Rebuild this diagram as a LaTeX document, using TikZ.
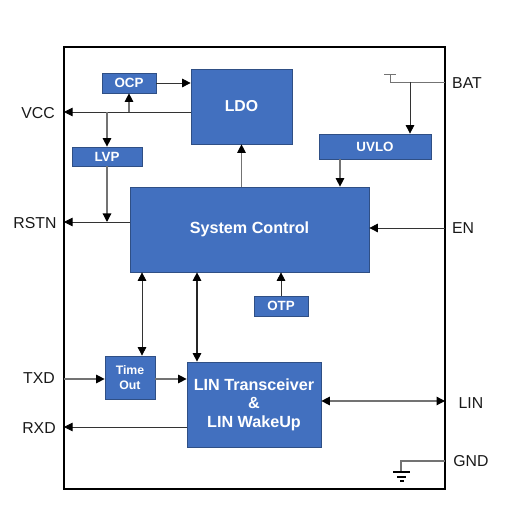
\documentclass[tikz,border=0pt]{standalone}
\usepackage{fontspec}
\setmainfont{Liberation Sans}
\usetikzlibrary{arrows.meta,positioning}

\begin{document}
\begin{tikzpicture}[x=1cm,y=1cm,>={Triangle[length=1.7mm,width=1.7mm,black]},font=\fontsize{9pt}{10pt}\selectfont,
 block/.style={draw=blockedge,line width=.4pt,fill=blockblue,text=white,align=center,inner sep=0pt,font=\fontsize{7.6pt}{9.6pt}\selectfont\bfseries},
 pinlabel/.style={text=black!90,inner sep=0pt},
 sig/.style={line width=.45pt,black!80},
 graysig/.style={line width=.7pt,black!55},
 wire/.style={line width=.5pt,black!55}]
\definecolor{blockblue}{HTML}{4270BF}
\definecolor{blockedge}{HTML}{2F4F85}
\useasboundingbox (0,0) rectangle (10.6,10.2);
\node[draw=black,line width=.7pt,minimum width=7.62cm,minimum height=8.84cm,inner sep=0pt] (chip) at (5.09,4.84) {};

\node[block,minimum width=1.08cm,minimum height=.40cm] (ocp) at (2.58,8.54) {OCP};
\node[block,minimum width=2.02cm,minimum height=1.50cm,font=\fontsize{9pt}{10pt}\selectfont\bfseries] (ldo) at (4.83,8.07) {LDO};
\node[block,minimum width=1.40cm,minimum height=.38cm] (lvp) at (2.14,7.07) {LVP};
\node[block,minimum width=2.24cm,minimum height=.50cm] (uvlo) at (7.50,7.27) {UVLO};
\node[block,minimum width=4.78cm,minimum height=1.70cm,font=\fontsize{9.2pt}{10pt}\selectfont\bfseries] (sysctrl) at (4.99,5.61) {System Control};
\node[block,minimum width=1.08cm,minimum height=.40cm] (otp) at (5.62,4.08) {OTP};
\node[block,minimum width=1.00cm,minimum height=.86cm,font=\fontsize{7pt}{8.6pt}\selectfont\bfseries] (timeout) at (2.60,2.65) {Time\\Out};
\node[block,minimum width=2.68cm,minimum height=1.70cm,font=\fontsize{9.2pt}{10.6pt}\selectfont\bfseries] (lin) at (5.08,2.11) {LIN Transceiver\\\&\\LIN WakeUp};

\foreach \x/\y/\lab in {.76/7.94/VCC,.70/5.74/RSTN,.78/2.64/TXD,.78/1.64/RXD,9.34/8.54/BAT,9.26/5.64/EN,9.42/2.14/LIN,9.42/.98/GND} {\node[pinlabel] (\lab) at (\x,\y) {\lab};}

\coordinate (vccpin) at (1.28,7.96);
\coordinate (rstnpin) at (1.28,5.76);
\coordinate (txdpin) at (1.28,2.62);
\coordinate (rxdpin) at (1.28,1.66);
\coordinate (batpin) at (8.90,8.56);
\coordinate (enpin) at (8.90,5.64);
\coordinate (linpin) at (8.90,2.18);
\coordinate (gndpin) at (8.90,.98);
\coordinate (battee) at (7.80,8.56);
\coordinate (battop) at (7.80,8.72);
\coordinate (gndtop) at (8.02,.98);
\coordinate (gndbar) at (8.02,.76);

\draw[->,sig] (ldo.west |- vccpin)--(vccpin);
\draw[->,graysig] (ocp.south |- vccpin)--(ocp.south);
\draw[->,graysig] (lvp.north |- vccpin)--(lvp.north);
\draw[->,sig] (ocp.east)--(ldo.west |- ocp.east);
\draw[->,graysig] (lvp.south)--(lvp.south |- rstnpin);
\draw[->,sig] (sysctrl.west |- rstnpin)--(rstnpin);
\draw[->,graysig] (sysctrl.north -| ldo.south)--(ldo.south);
\draw[wire] (batpin)--(battee)--(battop);
\draw[wire] ([xshift=-.12cm]battop)--([xshift=.12cm]battop);
\draw[->,sig] ([xshift=.70cm]uvlo.north |- batpin)--([xshift=.70cm]uvlo.north);
\draw[->,graysig] ([xshift=-.70cm]uvlo.south)--([xshift=-.70cm]uvlo.south |- sysctrl.north);
\draw[->,sig] (enpin)--(sysctrl.east |- enpin);
\draw[->,sig] (otp.north)--(otp.north |- sysctrl.south);
\draw[<->,sig] ([xshift=.24cm]timeout.north)--([xshift=.24cm]timeout.north |- sysctrl.south);
\draw[<->,line width=.6pt,black!85] ([xshift=-1.14cm]lin.north)--([xshift=-1.14cm]lin.north |- sysctrl.south);
\draw[->,graysig] (txdpin)--(timeout.west |- txdpin);
\draw[->,graysig] (timeout.east |- txdpin)--(lin.west |- txdpin);
\draw[->,sig] (lin.west |- rxdpin)--(rxdpin);
\draw[<->,graysig] (lin.east |- linpin)--(linpin);
\draw[wire,line width=.7pt] (gndpin)--(gndtop)--(gndbar);
\draw[line width=1.1pt] ([xshift=-.16cm]gndbar)--([xshift=.18cm]gndbar);
\draw[line width=1.1pt] ([xshift=-.08cm,yshift=-.10cm]gndbar)--([xshift=.10cm,yshift=-.10cm]gndbar);
\draw[line width=1.1pt] ([xshift=-.02cm,yshift=-.18cm]gndbar)--([xshift=.06cm,yshift=-.18cm]gndbar);
\end{tikzpicture}
\end{document}
